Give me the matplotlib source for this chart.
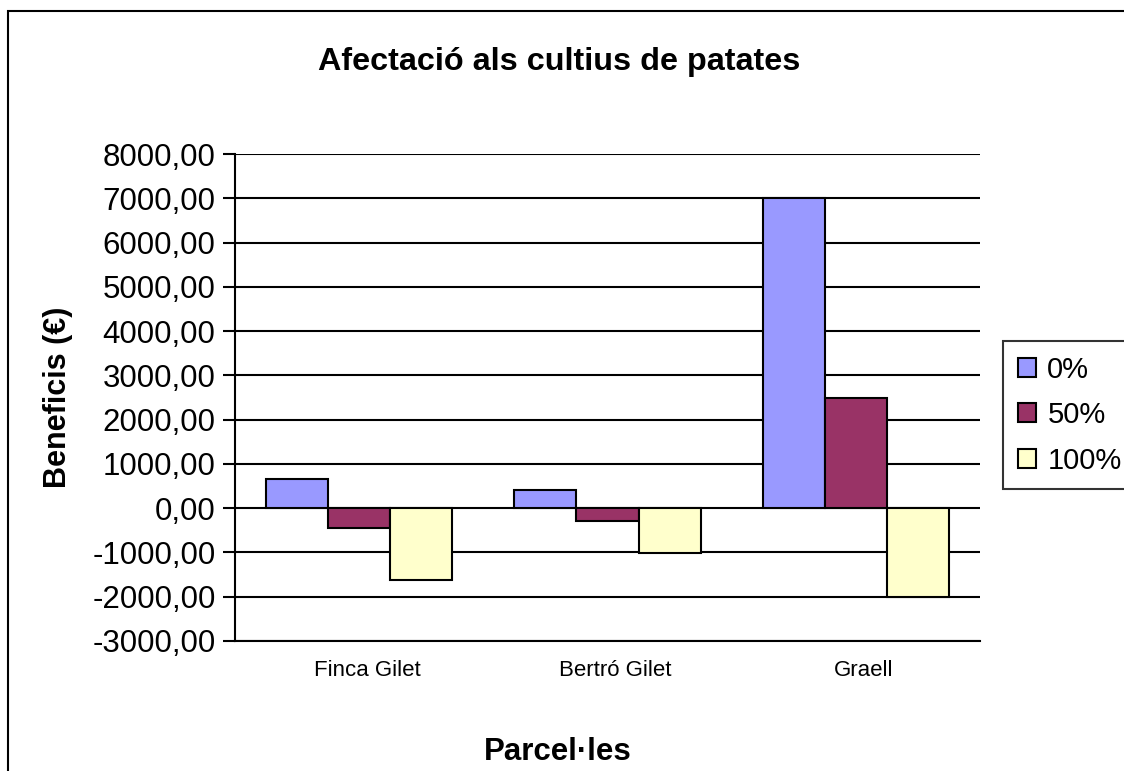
import matplotlib
matplotlib.use("Agg")
import matplotlib.pyplot as plt
from matplotlib.patches import Rectangle, Patch
import matplotlib.transforms as mtransforms
import numpy as np

categories = ["Finca Gilet", "Bertró Gilet", "Graell"]
series_names = ["0%", "50%", "100%"]
vals_0 = [670, 420, 7000]
vals_50 = [-440, -300, 2480]
vals_100 = [-1620, -1020, -2000]
colors = ["#9999FF", "#993366", "#FFFFCC"]
yticks = [8000, 7000, 6000, 5000, 4000, 3000, 2000, 1000, 0, -1000, -2000, -3000]
ytick_labels = ["8000,00", "7000,00", "6000,00", "5000,00", "4000,00", "3000,00",
                "2000,00", "1000,00", "0,00", "-1000,00", "-2000,00", "-3000,00"]

plt.rcParams['font.family'] = ['Liberation Sans', 'DejaVu Sans']

W, H = 1124, 771
fig = plt.figure(figsize=(W/100, H/100), dpi=100)
L, R, T, B = 235, 980, 154, 641
ax = fig.add_axes([L/W, 1-B/H, (R-L)/W, (B-T)/H])

# chart border
fig.patches.append(Rectangle((8/W, -0.1), 1.2, 1-11/H+0.1, transform=fig.transFigure,
                             fill=False, edgecolor='black', linewidth=1.5, zorder=0))

x = np.arange(len(categories))
bw = 0.25
for i, (vals, c, name) in enumerate(zip([vals_0, vals_50, vals_100], colors, series_names)):
    ax.bar(x + (i-1)*bw, vals, width=bw, color=c, edgecolor='black', linewidth=1.5,
           label=name, zorder=3)

ax.set_xlim(-0.5, len(categories)-0.5)
ax.set_ylim(-3000, 8000)
ax.set_yticks(yticks)
ax.set_yticklabels(ytick_labels, fontsize=22.5)
ax.yaxis.grid(True, color='black', linewidth=1.5, zorder=1)
ax.set_axisbelow(True)
ax.set_xticks(x)
ax.set_xticklabels(categories, fontsize=16)
ax.tick_params(axis='x', length=0, pad=14)
ax.tick_params(axis='y', length=9, width=1.5, pad=5, direction='out')
offset = mtransforms.ScaledTranslation(8/100, 0, fig.dpi_scale_trans)
for lbl in ax.get_xticklabels():
    lbl.set_transform(lbl.get_transform() + offset)
for s in ['top', 'right']:
    ax.spines[s].set_visible(False)
ax.spines['left'].set_linewidth(1.5)
ax.spines['bottom'].set_linewidth(1.5)

fig.text(559/W, 1-62/H, "Afectació als cultius de patates", ha='center', va='center',
         fontsize=23.3, fontweight='bold')
fig.text(558/W, 1-752/H, "Parcel·les", ha='center', va='center',
         fontsize=22.5, fontweight='bold')
fig.text(58/W, 1-397/H, "Beneficis (€)", ha='center', va='center', rotation=90,
         fontsize=22, fontweight='bold')

handles = [Patch(facecolor=c, edgecolor='black', linewidth=1.5) for c in colors]
leg = fig.legend(handles, series_names, loc='upper left',
                 bbox_to_anchor=(1003/W, 1-341/H), bbox_transform=fig.transFigure,
                 fontsize=21, frameon=True, fancybox=False, handlelength=0.62,
                 handleheight=0.62, handletextpad=0.4, labelspacing=0.6,
                 borderpad=0.5, borderaxespad=0)
leg.get_frame().set_edgecolor('black')
leg.get_frame().set_linewidth(1.5)

fig.savefig("out.png", dpi=100)
